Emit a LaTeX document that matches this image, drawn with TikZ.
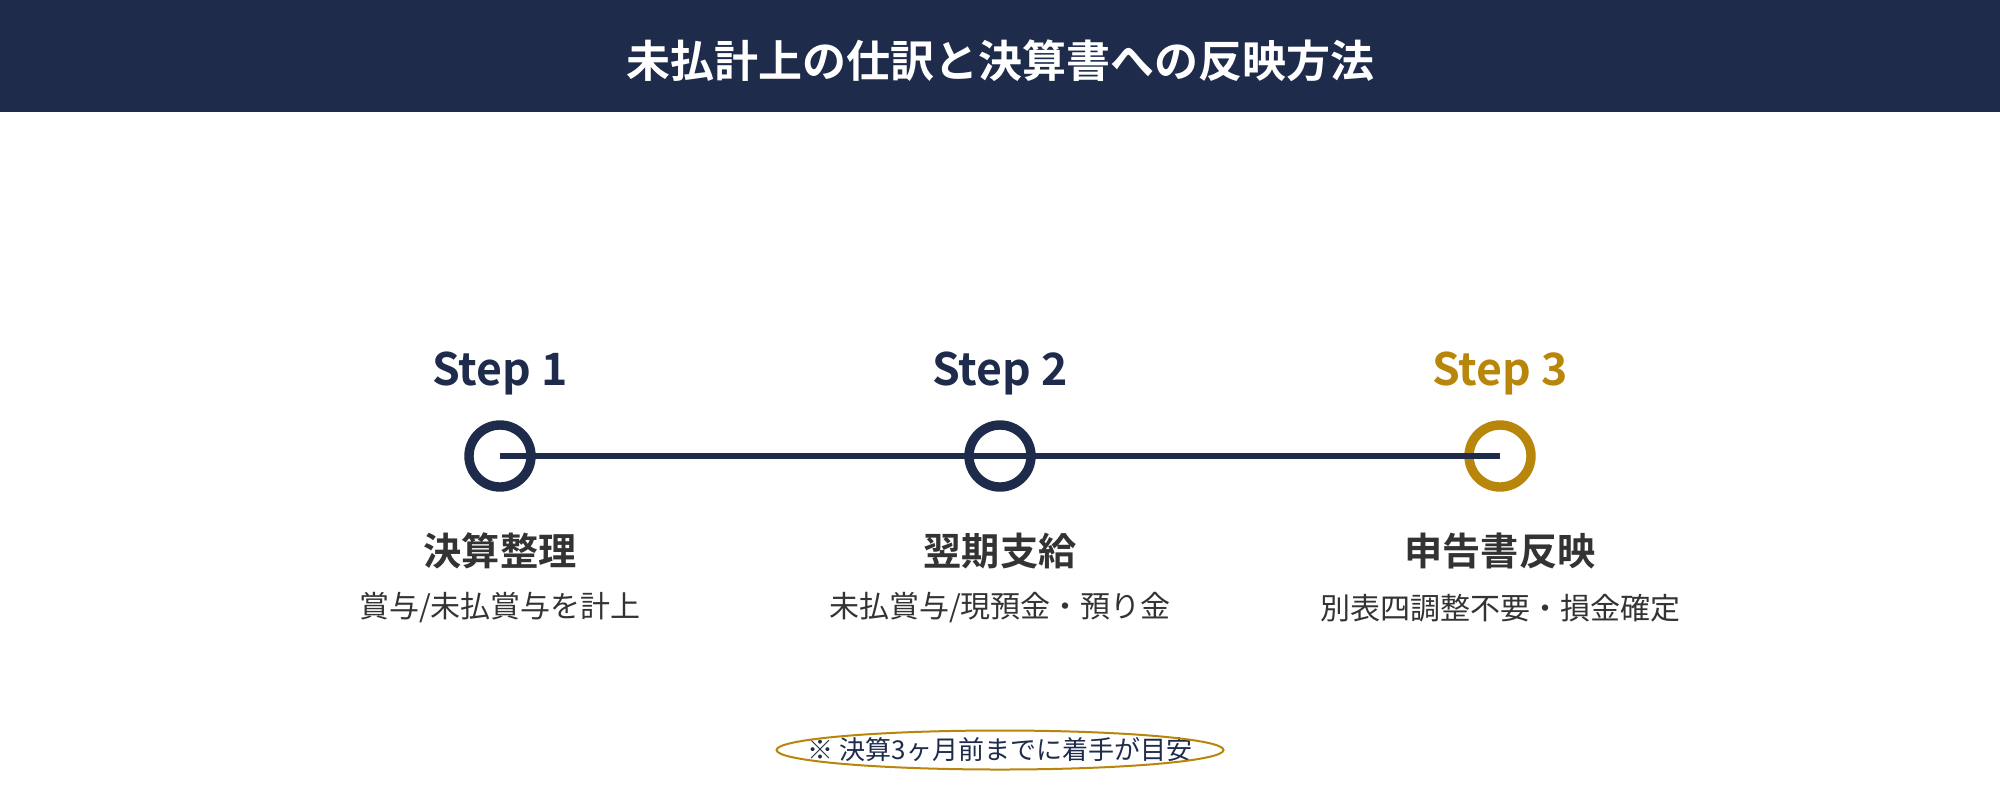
\documentclass[tikz,border=0pt]{standalone}
\usepackage{fontspec}
\setmainfont{Noto Sans CJK JP}[BoldFont={Noto Sans CJK JP Bold}]
\definecolor{navy}{HTML}{1E2B4B}
\definecolor{gold}{HTML}{B8860B}
\definecolor{txt}{HTML}{333333}
\tikzset{
  stepring/.style={circle, draw=navy, line width=4.7pt, fill=white, minimum size=31pt, inner sep=0pt},
  steplabel/.style={anchor=base, text=navy, font=\fontsize{22.3}{26}\selectfont\bfseries},
  subtitle/.style={anchor=center, text=txt, font=\fontsize{19.1}{23}\selectfont\bfseries},
  desc/.style={anchor=center, text=txt, font=\fontsize{15}{18}\selectfont},
  timeline/.style={draw=navy, line width=3pt},
}
\begin{document}
\begin{tikzpicture}[x=0.5pt, y=-0.5pt]
\path[use as bounding box, fill=white] (0,0) rectangle (2000,800);
\fill[navy] (0,0) rectangle (2000,112);
\node[text=white, font=\fontsize{22}{26}\selectfont\bfseries] (title) at (1000,61) {未払計上の仕訳と決算書への反映方法};

\node[stepring] (c1) at (500,456) {};
\node[stepring] (c2) at (1000,456) {};
\node[stepring, draw=gold] (c3) at (1500,456) {};
\draw[timeline] (c1.center) -- (c2.center) -- (c3.center);

\node[steplabel] (s1) at (500,385) {Step 1};
\node[steplabel] (s2) at (1000,385) {Step 2};
\node[steplabel, text=gold] (s3) at (1500,385) {Step 3};

\node[subtitle] (t1) at (500,551) {決算整理};
\node[subtitle] (t2) at (1000,551) {翌期支給};
\node[subtitle] (t3) at (1500,551) {申告書反映};

\node[desc] (d1) at (500,608) {賞与/未払賞与を計上};
\node[desc] (d2) at (1000,608) {未払賞与/現預金・預り金};
\node[desc] (d3) at (1500,608) {別表四調整不要・損金確定};

\node[text=navy, font=\fontsize{13}{16}\selectfont, inner sep=0pt] (note) at (1000,750) {※ 決算3ヶ月前までに着手が目安};
\draw[gold, line width=1pt] (note.center) ellipse [x radius=111.75pt, y radius=9.75pt];
\end{tikzpicture}
\end{document}
